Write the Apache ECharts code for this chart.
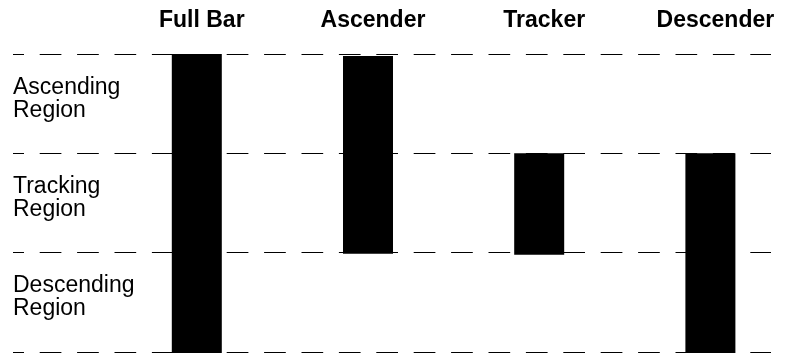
<!DOCTYPE html>
<html>
<head>
<meta charset="utf-8">
<script src="https://cdn.jsdelivr.net/npm/echarts@6/dist/echarts.min.js"></script>
<style>
  html, body { margin: 0; padding: 0; background: #fff; }
  #chart { width: 787px; height: 353px; }
</style>
</head>
<body>
<div id="chart"></div>
<script>
// bar names along the top, in order left to right
const categories = ['Full Bar', 'Ascender', 'Tracker', 'Descender']
// each bar spans low..high, in region units (0 = bottom line, 3 = top line)
const barLow = [0, 1.0, 0.99, 0]
const barHigh = [3, 2.98, 2, 2]
// region names, bottom to top
const regions = ['Descending\nRegion', 'Tracking\nRegion', 'Ascending\nRegion']

const font = 'Liberation Sans, Arial, sans-serif'

const chart = echarts.init(document.getElementById('chart'))

let options = {
    animation: false,
    grid: [
        // main plot: bars + dashed lines
        {left: 13, right: 16, top: 54, bottom: 1},
        // region labels sit a little above the band centers
        {left: 13, right: 16, top: 49, bottom: 6}
    ],
    xAxis: [
        {
            type: 'value',
            gridIndex: 0,
            position: 'top',
            min: -1.0736,
            max: 3.354,
            axisLine: {show: false},
            axisTick: {show: false},
            splitLine: {show: false},
            axisLabel: {
                customValues: categories.map((c, i) => i),
                formatter: (v) => categories[Math.round(v)],
                margin: 22,
                padding: [0, 0, 0, 10],
                color: '#000',
                fontFamily: font,
                fontWeight: 'bold',
                fontSize: 23
            }
        },
        {
            type: 'value',
            gridIndex: 1,
            show: false
        }
    ],
    yAxis: [
        {
            // value scale for the bars + dashed region lines
            type: 'value',
            gridIndex: 0,
            min: 0,
            max: 3,
            interval: 1,
            axisLine: {show: false},
            axisTick: {show: false},
            axisLabel: {show: false},
            splitLine: {
                show: true,
                lineStyle: {
                    color: '#000',
                    width: 1,
                    type: [21.7, 15.7],
                    dashOffset: 10.7
                }
            }
        },
        {
            // region labels only
            type: 'category',
            gridIndex: 1,
            data: regions,
            axisLine: {show: false},
            axisTick: {show: false},
            splitLine: {show: false},
            axisLabel: {
                inside: true,
                margin: 0,
                color: '#000',
                fontFamily: font,
                fontSize: 23,
                lineHeight: 23
            }
        }
    ],
    series: [{
        type: 'custom',
        xAxisIndex: 0,
        yAxisIndex: 0,
        data: categories.map((c, i) => [i, barLow[i], barHigh[i]]),
        encode: {x: 0, y: [1, 2]},
        renderItem: (params, api) => {
            const top = api.coord([api.value(0), api.value(2)])
            const bottom = api.coord([api.value(0), api.value(1)])
            const w = 50
            // +1 so the bar covers the dashed line it sits on
            return {
                type: 'rect',
                shape: {x: top[0] - w / 2, y: top[1], width: w, height: bottom[1] - top[1] + 1},
                style: {fill: '#000'}
            }
        }
    }]
}

chart.setOption(options)
</script>
</body>
</html>
